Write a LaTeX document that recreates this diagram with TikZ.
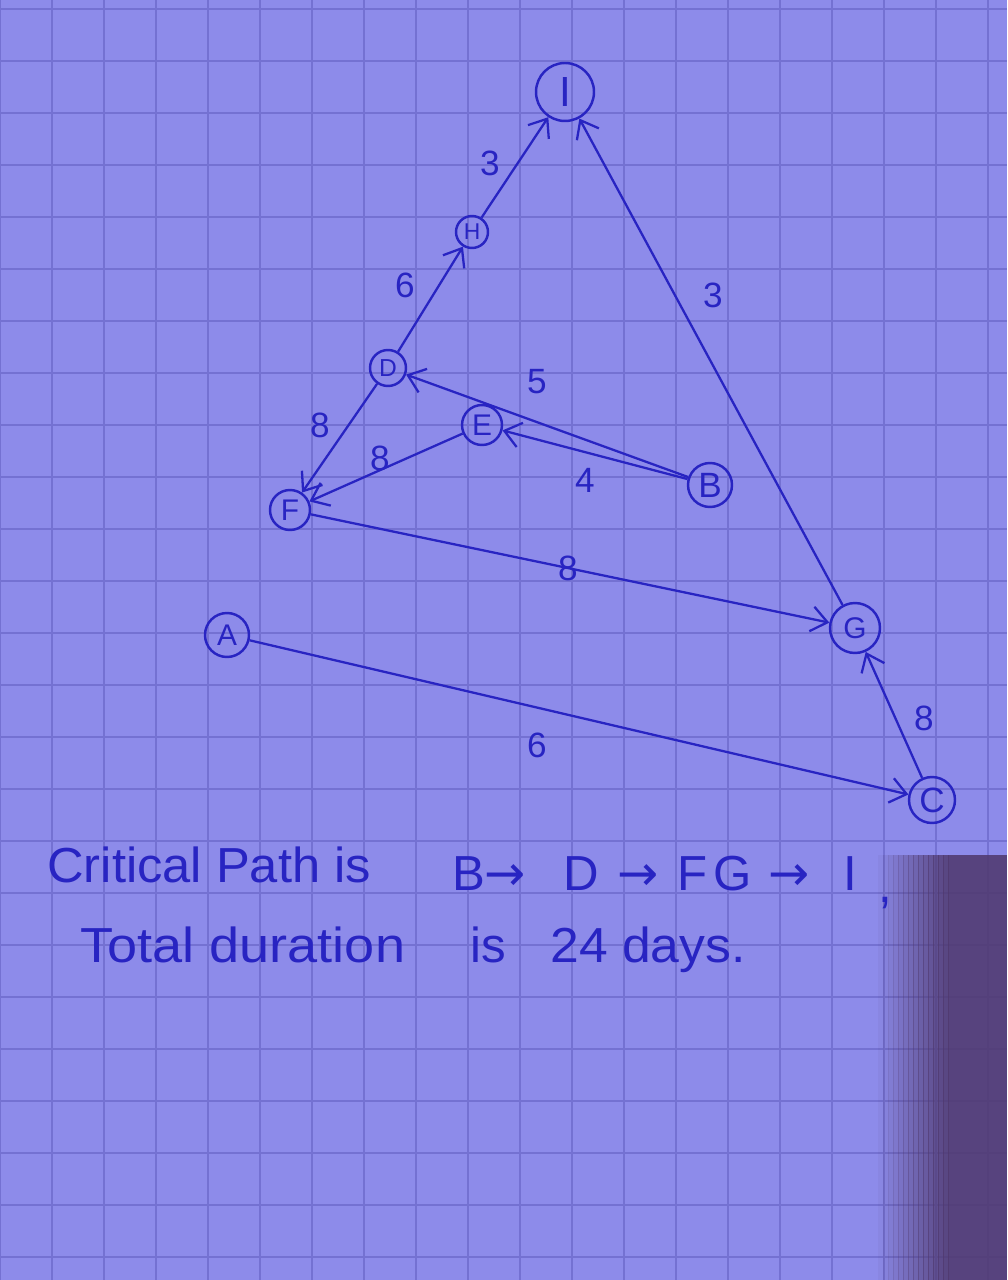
\documentclass[tikz,border=0pt]{standalone}
\usepackage{fontspec}
\setmainfont{Liberation Sans}
\newfontfamily\arrowfont{DejaVu Sans}
\usetikzlibrary{arrows.meta}
\definecolor{paper}{RGB}{141,139,234}
\definecolor{gridc}{RGB}{116,113,210}
\definecolor{ink}{RGB}{40,36,194}
\definecolor{darkshade}{RGB}{80,58,112}
\tikzset{
  ev/.style={circle,draw=ink,line width=1.4pt,text=ink,inner sep=0pt,font=\fontsize{17}{17}\selectfont},
  act/.style={draw=ink,line width=1.3pt,-{Straight Barb[length=3.2mm,width=5mm,line width=1.3pt]}},
  lbl/.style={text=ink,font=\fontsize{20}{20}\selectfont},
  note/.style={text=ink,anchor=base west,inner sep=0pt,font=\fontsize{28}{28}\selectfont},
  arr/.style={note,font=\arrowfont\fontsize{28}{28}\selectfont}
}
\begin{document}
\begin{tikzpicture}[x=0.02cm,y=-0.02cm]
\fill[paper] (0,0) rectangle (1007,1280);
\useasboundingbox (0,0) rectangle (1007,1280);
% grid
\foreach \gx in {0,52,...,1007} \draw[gridc,line width=0.9pt] (\gx,0) -- (\gx,1280);
\foreach \gy in {9,61,...,1280} \draw[gridc,line width=0.9pt] (0,\gy) -- (1007,\gy);
% shadow at lower right (stepped gradient)
\foreach \i in {0,...,13} {
  \pgfmathsetmacro{\pc}{int(6*(\i+1))}
  \fill[darkshade,opacity=\pc/100] ({878+5*\i},855) rectangle ({883.5+5*\i},1280);
}
\fill[darkshade,opacity=0.88] (948,855) rectangle (1007,1280);
% nodes
\node[ev,minimum size=1.16cm,font=\fontsize{24}{24}\selectfont] (I) at (565,92) {I};
\node[ev,minimum size=0.64cm,font=\fontsize{13}{13}\selectfont] (H) at (472,232) {H};
\node[ev,minimum size=0.72cm,font=\fontsize{14}{14}\selectfont] (D) at (388,368) {D};
\node[ev,minimum size=0.80cm] (E) at (482,425) {E};
\node[ev,minimum size=0.88cm,font=\fontsize{20}{20}\selectfont] (B) at (710,485) {B};
\node[ev,minimum size=0.80cm] (F) at (290,510) {F};
\node[ev,minimum size=1.00cm] (G) at (855,628) {G};
\node[ev,minimum size=0.88cm] (A) at (227,635) {A};
\node[ev,minimum size=0.92cm,font=\fontsize{20}{20}\selectfont] (C) at (932,800) {C};
% activities
\draw[act] (H) -- (I);
\draw[act] (D) -- (H);
\draw[act] (B) -- (D);
\draw[act] (B) -- (E);
\draw[act] (D) -- (F);
\draw[act] (E) -- (F);
\draw[act] (F) -- (G);
\draw[act] (A) -- (C);
\draw[act] (C) -- (G);
\draw[act] (G) -- (I);
% durations
\node[lbl] (l1) at (490,163) {3};
\node[lbl] (l2) at (405,285) {6};
\node[lbl] (l3) at (537,382) {5};
\node[lbl] (l4) at (585,480) {4};
\node[lbl] (l5) at (320,425) {8};
\node[lbl] (l6) at (380,458) {8};
\node[lbl] (l7) at (568,568) {8};
\node[lbl] (l8) at (537,745) {6};
\node[lbl] (l9) at (924,718) {8};
\node[lbl] (l10) at (713,295) {3};
% notes
\node[note] (n1) at (47,882) {\addfontfeature{FakeStretch=1.03}Critical Path is};
\node[note] (p1) at (452,890) {B};
\node[arr]  (p2) at (484,890) {→};
\node[note] (p3) at (563,890) {D};
\node[arr]  (p4) at (617,890) {→};
\node[note] (p5) at (677,890) {F};
\node[note] (p6) at (713,890) {G};
\node[arr]  (p7) at (768,890) {→};
\node[note] (p8) at (843,890) {I};
\node[note] (p9) at (878,902) {,};
\node[note] (n3) at (80,962) {\addfontfeature{FakeStretch=1.1}Total duration};
\node[note] (n4) at (470,962) {is};
\node[note] (n5) at (550,962) {\addfontfeature{FakeStretch=1.05}24 days.};
\end{tikzpicture}
\end{document}
